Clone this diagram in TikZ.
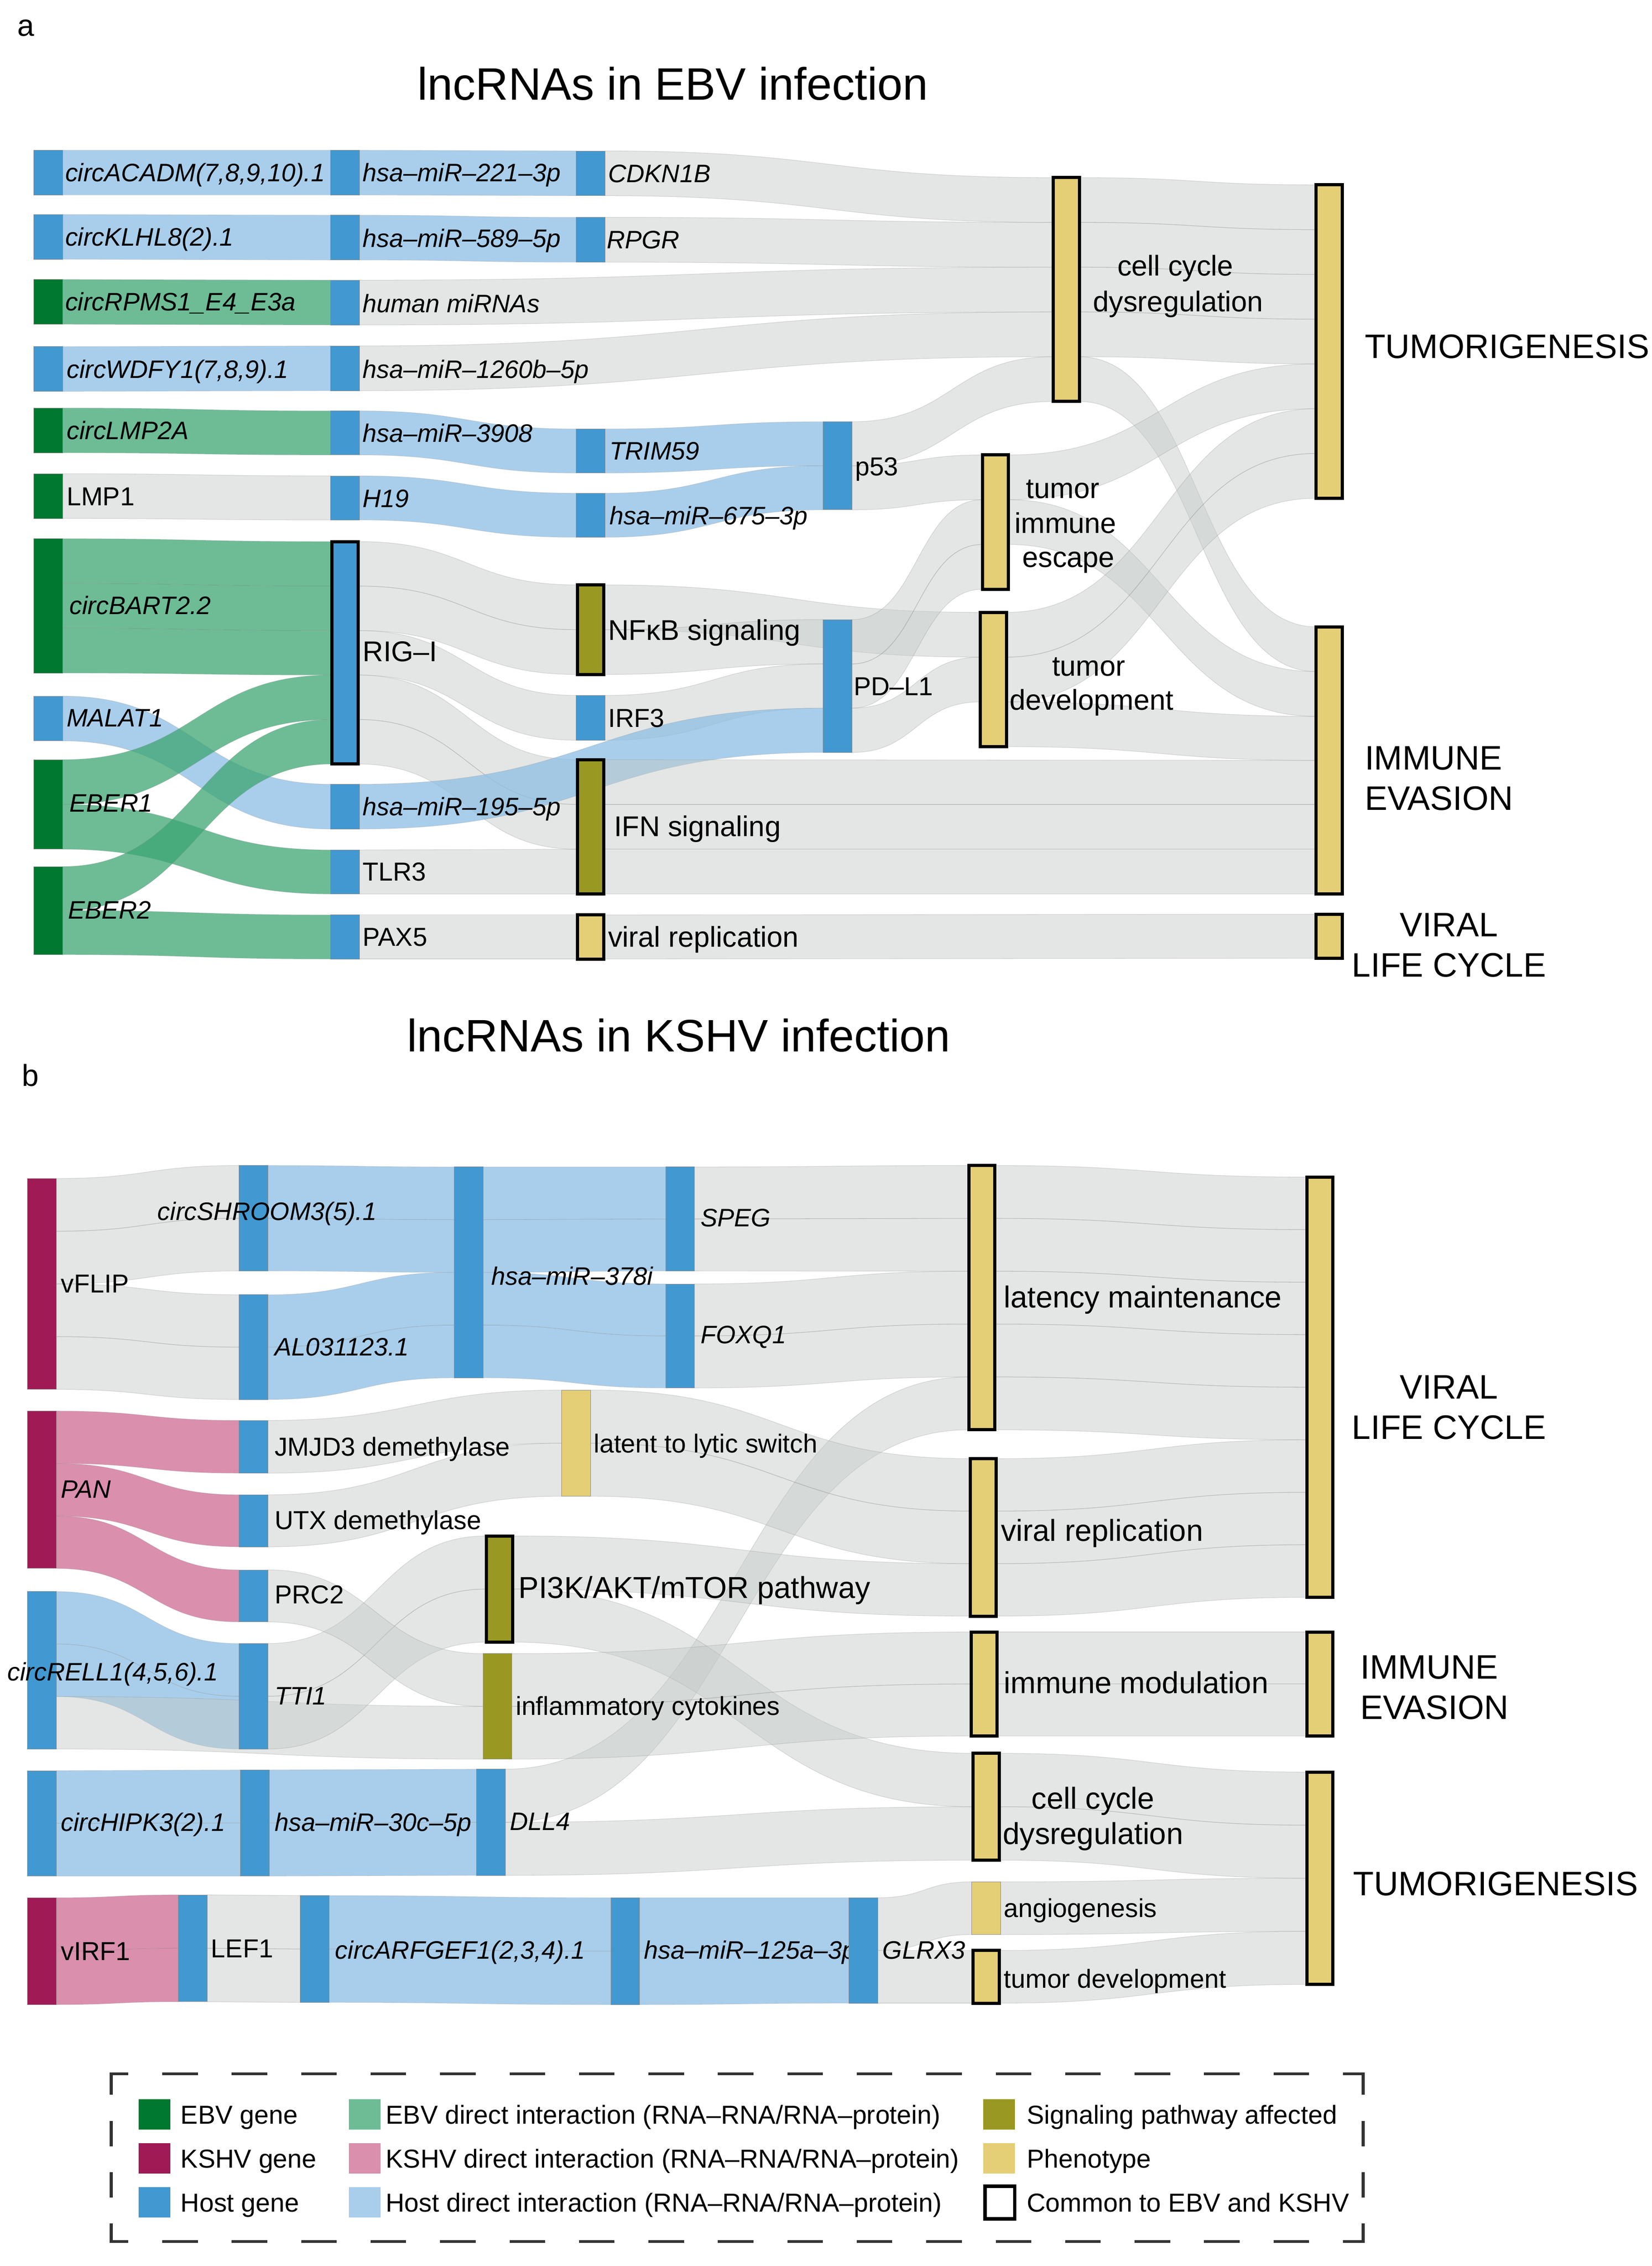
\documentclass[tikz,border=0pt]{standalone}
\usepackage{fontspec}
\setmainfont{Liberation Sans}
\usetikzlibrary{calc}

\definecolor{ebvc}{RGB}{0,120,48}
\definecolor{kshvc}{RGB}{160,26,86}
\definecolor{hostc}{RGB}{66,152,208}
\definecolor{sigc}{RGB}{152,152,34}
\definecolor{phenc}{RGB}{228,206,118}
\definecolor{flowc}{RGB}{195,200,198}
\definecolor{hostflow}{RGB}{140,190,228}
\definecolor{ebvflow}{RGB}{60,165,115}
\definecolor{kshvflow}{RGB}{205,105,145}

\pgfdeclarelayer{bg}
\pgfsetlayers{bg,main}

\tikzset{
  gbox/.style={rectangle, inner sep=0pt, outer sep=0pt, minimum width=20pt, anchor=north west, draw=black!45, line width=0.3pt},
  hostbox/.style={gbox, fill=hostc},
  ebvbox/.style={gbox, fill=ebvc},
  kshvbox/.style={gbox, fill=kshvc},
  sigbox/.style={gbox, fill=sigc},
  phenbox/.style={gbox, fill=phenc},
  shared/.style={draw=black, line width=2.2pt, minimum width=18pt, xshift=1pt},
  flowg/.style={fill=flowc, fill opacity=0.45, draw=black!45, draw opacity=0.3, line width=0.4pt},
  flowh/.style={fill=hostflow, fill opacity=0.75, draw=black!45, draw opacity=0.25, line width=0.4pt},
  flowe/.style={fill=ebvflow, fill opacity=0.75, draw=black!45, draw opacity=0.25, line width=0.4pt},
  flowk/.style={fill=kshvflow, fill opacity=0.75, draw=black!45, draw opacity=0.25, line width=0.4pt},
  lab/.style={font=\fontsize{18}{21}\selectfont, inner sep=0pt, text height=12.9pt, text depth=0pt, anchor=west},
  glab/.style={lab, font=\fontsize{17.5}{21}\selectfont\itshape, text height=12.5pt},
  mlab/.style={lab, font=\fontsize{19.8}{23}\selectfont, text height=14.2pt},
  klab/.style={lab, font=\fontsize{21}{25}\selectfont, text height=15pt},
  blab/.style={lab, font=\fontsize{23.5}{28}\selectfont, text height=16.8pt},
  ttl/.style={lab, font=\fontsize{31.5}{38}\selectfont, text height=22.5pt, anchor=center},
  leg/.style={lab, font=\fontsize{18}{22}\selectfont, text height=12.9pt},
  swatch/.style={rectangle, inner sep=0pt, outer sep=0pt, minimum width=22pt, minimum height=21pt, anchor=west},
  legline/.style={black!80, line width=2pt},
}

% bar: [extra]{style}{name}{x left}{y top}{y bottom}
\newcommand{\gbar}[6][]{\node[#2,#1,minimum height={(#6)-(#5)}] (#3) at (#4,#5) {};}
% band: [style]{from}{y1}{y2}{to}{y3}{y4}
\newcommand{\band}[7][flowg]{%
  \path (#2.east) coordinate (bs) (#5.west) coordinate (bd);
  \path ($(bs)!0.5!(bd)$) coordinate (bm);
  \begin{pgfonlayer}{bg}
  \path[#1] (bs |- 0,#3) .. controls (bm |- 0,#3) and (bm |- 0,#6) .. (bd |- 0,#6)
    -- (bd |- 0,#7) .. controls (bm |- 0,#7) and (bm |- 0,#4) .. (bs |- 0,#4) -- cycle;
  \end{pgfonlayer}}

\begin{document}
\begin{tikzpicture}[x=1pt,y=-1pt]
  \useasboundingbox (0,0) rectangle (1144,1569);

  \node[lab, font=\fontsize{21}{25}\selectfont, anchor=base west] (pa) at (12,25) {a};
  \node[lab, font=\fontsize{21}{25}\selectfont, anchor=base west] (pb) at (15,752) {b};
  \node[ttl] (ebvtitle) at (466,58) {lncRNAs in EBV infection};
  \node[ttl] (kshvtitle) at (470,717) {lncRNAs in KSHV infection};

  % EBV bars
  \gbar{hostbox}{circacadm}{23.5}{104}{135}
  \gbar{hostbox}{circklhl8}{23.5}{148.5}{179.5}
  \gbar{ebvbox}{circrpms1}{23.5}{193.5}{224.5}
  \gbar{hostbox}{circwdfy1}{23.5}{240}{271}
  \gbar{ebvbox}{circlmp2a}{23.5}{282.5}{313.5}
  \gbar{ebvbox}{lmp1}{23.5}{328}{359}
  \gbar{ebvbox}{circbart}{23.5}{373}{466}
  \gbar{hostbox}{malat1}{23.5}{482}{513}
  \gbar{ebvbox}{eber1}{23.5}{526}{588}
  \gbar{ebvbox}{eber2}{23.5}{600}{661}

  \gbar{hostbox}{mir221}{229}{104}{135}
  \gbar{hostbox}{mir589}{229}{149}{180}
  \gbar{hostbox}{humanmir}{229}{194}{225}
  \gbar{hostbox}{mir1260}{229}{239.5}{270.5}
  \gbar{hostbox}{mir3908}{229}{284.5}{315}
  \gbar{hostbox}{h19}{229}{329.5}{360}
  \gbar[shared]{hostbox}{rigi}{229}{375}{529}
  \gbar{hostbox}{mir195}{229}{543}{574}
  \gbar{hostbox}{tlr3}{229}{588.5}{619}
  \gbar{hostbox}{pax5}{229}{633.5}{664}

  \gbar{hostbox}{cdkn1b}{399}{104.5}{135.5}
  \gbar{hostbox}{rpgr}{399}{150.5}{181.5}
  \gbar{hostbox}{trim59}{399}{297}{327.5}
  \gbar{hostbox}{mir675}{399}{341.5}{372}
  \gbar[shared]{sigbox}{nfkb}{399}{405}{467}
  \gbar{hostbox}{irf3}{399}{481.5}{512.5}
  \gbar[shared]{sigbox}{ifn}{399}{526}{619}
  \gbar[shared]{phenbox}{virrep}{399}{633.5}{664}

  \gbar{hostbox}{p53}{570}{292}{353}
  \gbar{hostbox}{pdl1}{570}{429}{521}

  \gbar[shared]{phenbox}{ccd}{728.5}{123}{278}
  \gbar[shared]{phenbox}{tie}{679.5}{315}{408}
  \gbar[shared]{phenbox}{tdev}{678}{424}{517}

  \gbar[shared]{phenbox}{tumor}{910.5}{128}{345}
  \gbar[shared]{phenbox}{immune}{910.5}{434}{619}
  \gbar[shared]{phenbox}{viral}{910.5}{633}{663.5}

  % EBV flows
  \band[flowh]{circacadm}{104}{135}{mir221}{104}{135}
  \band[flowh]{circklhl8}{148.5}{179.5}{mir589}{149}{180}
  \band[flowe]{circrpms1}{193.5}{224.5}{humanmir}{194}{225}
  \band[flowh]{circwdfy1}{240}{271}{mir1260}{239.5}{270.5}
  \band[flowe]{circlmp2a}{282.5}{313.5}{mir3908}{284.5}{315}
  \band{lmp1}{328}{359}{h19}{329.5}{360}
  \band[flowe]{circbart}{373}{404}{rigi}{375}{405.8}
  \band[flowe]{circbart}{404}{435}{rigi}{405.8}{436.6}
  \band[flowe]{circbart}{435}{466}{rigi}{436.6}{467.4}
  \band[flowh]{malat1}{482}{513}{mir195}{543}{574}
  \band[flowe]{eber1}{526}{557}{rigi}{467.4}{498.2}
  \band[flowe]{eber1}{557}{588}{tlr3}{588.5}{619}
  \band[flowe]{eber2}{600}{630.5}{rigi}{498.2}{529}
  \band[flowe]{eber2}{630.5}{661}{pax5}{633.5}{664}

  \band[flowh]{mir221}{104}{135}{cdkn1b}{104.5}{135.5}
  \band[flowh]{mir589}{149}{180}{rpgr}{150.5}{181.5}
  \band{humanmir}{194}{225}{ccd}{185}{216}
  \band{mir1260}{239.5}{270.5}{ccd}{216}{247}
  \band[flowh]{mir3908}{284.5}{315}{trim59}{297}{327.5}
  \band[flowh]{h19}{329.5}{360}{mir675}{341.5}{372}
  \band{rigi}{375}{405.8}{nfkb}{405}{436}
  \band{rigi}{405.8}{436.6}{nfkb}{436}{467}
  \band{rigi}{436.6}{467.4}{irf3}{481.5}{512.5}
  \band{rigi}{467.4}{498.2}{ifn}{526}{557}
  \band{rigi}{498.2}{529}{ifn}{557}{588}
  \band{tlr3}{588.5}{619}{ifn}{588}{619}
  \band{pax5}{633.5}{664}{virrep}{633.5}{664}

  \band{cdkn1b}{104.5}{135.5}{ccd}{123}{154}
  \band{rpgr}{150.5}{181.5}{ccd}{154}{185}
  \band[flowh]{trim59}{297}{327.5}{p53}{292}{322.5}
  \band[flowh]{mir675}{341.5}{372}{p53}{322.5}{353}
  \band{nfkb}{405}{436}{tdev}{424}{455}
  \band{nfkb}{436}{467}{pdl1}{429}{459.7}
  \band{irf3}{481.5}{512.5}{pdl1}{459.7}{490.3}
  \band[flowh]{mir195}{543}{574}{pdl1}{490.3}{521}
  \band{ifn}{526}{557}{immune}{526.5}{557}
  \band{ifn}{557}{588}{immune}{557}{588}
  \band{ifn}{588}{619}{immune}{588}{619}
  \band{virrep}{633.5}{664}{viral}{633}{663.5}

  \band{p53}{292}{322.5}{ccd}{247}{278}
  \band{p53}{322.5}{353}{tie}{315}{346}
  \band{pdl1}{429}{459.7}{tie}{346}{377}
  \band{pdl1}{459.7}{490.3}{tie}{377}{408}
  \band{pdl1}{490.3}{521}{tdev}{455}{486}

  \band{ccd}{123}{154}{tumor}{128}{159}
  \band{ccd}{154}{185}{tumor}{159}{190}
  \band{ccd}{185}{216}{tumor}{190}{221}
  \band{ccd}{216}{247}{tumor}{221}{252}
  \band{ccd}{247}{278}{immune}{434}{465}
  \band{tie}{315}{346}{tumor}{252}{283}
  \band{tie}{346}{377}{immune}{465}{496}
  \band{tdev}{424}{455}{tumor}{283}{314}
  \band{tdev}{455}{486}{tumor}{314}{345}
  \band{tdev}{486}{517}{immune}{496}{526.5}

  % EBV labels
  \node[glab] (l-acadm) at (45,119.5) {circACADM(7,8,9,10).1};
  \node[glab] (l-klhl8) at (45,164) {circKLHL8(2).1};
  \node[glab] (l-rpms1) at (45,209) {circRPMS1\_E4\_E3a};
  \node[glab] (l-wdfy1) at (46,255.5) {circWDFY1(7,8,9).1};
  \node[glab] (l-lmp2a) at (46,298) {circLMP2A};
  \node[lab] (l-lmp1) at (46,343.5) {LMP1};
  \node[glab] (l-bart) at (48,419) {circBART2.2};
  \node[glab] (l-malat1) at (46,497) {MALAT1};
  \node[glab] (l-eber1) at (48,556) {EBER1};
  \node[glab] (l-eber2) at (47,630) {EBER2};
  \node[glab] (l-mir221) at (251,119.5) {hsa–miR–221–3p};
  \node[glab] (l-mir589) at (251,165) {hsa–miR–589–5p};
  \node[glab] (l-humanmir) at (251,210) {human miRNAs};
  \node[glab] (l-mir1260) at (251,255.5) {hsa–miR–1260b–5p};
  \node[glab] (l-mir3908) at (251,300) {hsa–miR–3908};
  \node[glab] (l-h19) at (251,345) {H19};
  \node[mlab] (l-rigi) at (251,451) {RIG–I};
  \node[glab] (l-mir195) at (251,558.5) {hsa–miR–195–5p};
  \node[lab] (l-tlr3) at (251,603.5) {TLR3};
  \node[lab] (l-pax5) at (251,648.5) {PAX5};
  \node[glab] (l-cdkn1b) at (421,120) {CDKN1B};
  \node[glab] (l-rpgr) at (420,166) {RPGR};
  \node[glab] (l-trim59) at (422,312) {TRIM59};
  \node[glab] (l-mir675) at (422,357) {hsa–miR–675–3p};
  \node[mlab] (l-nfkb) at (421,436) {NFκB signaling};
  \node[lab] (l-irf3) at (421,497) {IRF3};
  \node[mlab] (l-ifn) at (425,572) {IFN signaling};
  \node[mlab] (l-virrep) at (421,648.5) {viral replication};
  \node[lab] (l-p53) at (592,323) {p53};
  \node[lab] (l-pdl1) at (591,475) {PD–L1};
  \node[mlab, anchor=center] (l-ccd1) at (814,184) {cell cycle};
  \node[mlab, anchor=center] (l-ccd2) at (816,208.5) {dysregulation};
  \node[mlab, anchor=center] (l-tie1) at (736,338) {tumor};
  \node[mlab, anchor=center] (l-tie2) at (738,362) {immune};
  \node[mlab, anchor=center] (l-tie3) at (740,385.5) {escape};
  \node[mlab, anchor=center] (l-tdev1) at (754,461) {tumor};
  \node[mlab, anchor=center] (l-tdev2) at (756,484.5) {development};
  \node[blab] (l-tumor) at (945,239.5) {TUMORIGENESIS};
  \node[blab] (l-immune1) at (945,524.5) {IMMUNE};
  \node[blab] (l-immune2) at (945,552.5) {EVASION};
  \node[blab, anchor=center] (l-viral1) at (1003.5,640) {VIRAL};
  \node[blab, anchor=center] (l-viral2) at (1003.5,668) {LIFE CYCLE};

  % KSHV bars
  \gbar{kshvbox}{vflip}{19}{816}{962}
  \gbar{kshvbox}{pan}{19}{977}{1086}
  \gbar{hostbox}{circrell1}{19}{1102}{1211}
  \gbar{hostbox}{circhipk3}{19}{1226}{1299}
  \gbar{kshvbox}{virf1}{19}{1314}{1388}

  \gbar{hostbox}{circshroom3}{165.5}{807}{880}
  \gbar{hostbox}{al031123}{165.5}{896.5}{969}
  \gbar{hostbox}{jmjd3}{165.5}{983.5}{1020}
  \gbar{hostbox}{utx}{165.5}{1035}{1071}
  \gbar{hostbox}{prc2}{165.5}{1087}{1123}
  \gbar{hostbox}{tti1}{165.5}{1138}{1211}
  \gbar{hostbox}{mir30c}{166.5}{1225.5}{1299}
  \gbar{hostbox}{lef1}{123.5}{1312}{1386}
  \gbar{hostbox}{circarfgef1}{208}{1312.5}{1386.5}
  \gbar{hostbox}{mir125a}{423}{1314}{1388}

  \gbar{hostbox}{mir378i}{314.5}{808}{954}
  \gbar{hostbox}{dll4}{330}{1225}{1298.5}
  \gbar[shared]{sigbox}{pi3k}{336}{1063.5}{1137}
  \gbar{sigbox}{infcyt}{334.5}{1145}{1218}
  \gbar{hostbox}{speg}{461}{808}{880}
  \gbar{hostbox}{foxq1}{461}{889}{961}
  \gbar{phenbox}{ltl}{389}{962.5}{1036}
  \gbar{hostbox}{glrx3}{588}{1314}{1387}

  \gbar[shared]{phenbox}{latmain}{670}{807}{990}
  \gbar[shared]{phenbox}{kvirrep}{671}{1010}{1119}
  \gbar[shared]{phenbox}{immmod}{671.5}{1130}{1202}
  \gbar[shared]{phenbox}{kccd}{673}{1214}{1288}
  \gbar{phenbox}{angio}{673}{1303}{1339.5}
  \gbar[shared]{phenbox}{ktdev}{673}{1350.5}{1387}

  \gbar[shared]{phenbox}{kviral}{904}{815}{1106}
  \gbar[shared]{phenbox}{kimmune}{904}{1130}{1202}
  \gbar[shared]{phenbox}{ktumor}{904}{1227}{1374}

  % KSHV flows
  \band{vflip}{816}{852.5}{circshroom3}{807}{843.5}
  \band{vflip}{852.5}{889}{circshroom3}{843.5}{880}
  \band{vflip}{889}{925.5}{al031123}{896.5}{932.75}
  \band{vflip}{925.5}{962}{al031123}{932.75}{969}
  \band[flowh]{circshroom3}{807}{843.5}{mir378i}{808}{844.5}
  \band[flowh]{circshroom3}{843.5}{880}{mir378i}{844.5}{881}
  \band[flowh]{al031123}{896.5}{932.75}{mir378i}{881}{917.5}
  \band[flowh]{al031123}{932.75}{969}{mir378i}{917.5}{954}
  \band[flowh]{mir378i}{808}{844.5}{speg}{808}{844}
  \band[flowh]{mir378i}{844.5}{881}{speg}{844}{880}
  \band[flowh]{mir378i}{881}{917.5}{foxq1}{889}{925}
  \band[flowh]{mir378i}{917.5}{954}{foxq1}{925}{961}
  \band{speg}{808}{844}{latmain}{807}{843.6}
  \band{speg}{844}{880}{latmain}{843.6}{880.2}
  \band{foxq1}{889}{925}{latmain}{880.2}{916.8}
  \band{foxq1}{925}{961}{latmain}{916.8}{953.4}
  \band{dll4}{1225}{1261.75}{latmain}{953.4}{990}

  \band[flowk]{pan}{977}{1013.3}{jmjd3}{983.5}{1020}
  \band[flowk]{pan}{1013.3}{1049.7}{utx}{1035}{1071}
  \band[flowk]{pan}{1049.7}{1086}{prc2}{1087}{1123}
  \band{jmjd3}{983.5}{1020}{ltl}{962.5}{999.25}
  \band{utx}{1035}{1071}{ltl}{999.25}{1036}
  \band{ltl}{962.5}{999.25}{kvirrep}{1010}{1046.3}
  \band{ltl}{999.25}{1036}{kvirrep}{1046.3}{1082.7}
  \band{pi3k}{1063.5}{1100.25}{kvirrep}{1082.7}{1119}
  \band{pi3k}{1100.25}{1137}{kccd}{1214}{1251}

  \band[flowh]{circrell1}{1102}{1138.3}{tti1}{1138}{1174.5}
  \band[flowh]{circrell1}{1138.3}{1174.7}{tti1}{1174.5}{1211}
  \band{circrell1}{1174.7}{1211}{infcyt}{1181.5}{1218}
  \band{tti1}{1138}{1174.5}{pi3k}{1063.5}{1100.25}
  \band{tti1}{1174.5}{1211}{pi3k}{1100.25}{1137}
  \band{prc2}{1087}{1123}{infcyt}{1145}{1181.5}
  \band{infcyt}{1145}{1181.5}{immmod}{1130}{1166}
  \band{infcyt}{1181.5}{1218}{immmod}{1166}{1202}

  \band[flowh]{circhipk3}{1226}{1262.5}{mir30c}{1225.5}{1262.25}
  \band[flowh]{circhipk3}{1262.5}{1299}{mir30c}{1262.25}{1299}
  \band[flowh]{mir30c}{1225.5}{1262.25}{dll4}{1225}{1261.75}
  \band[flowh]{mir30c}{1262.25}{1299}{dll4}{1261.75}{1298.5}
  \band{dll4}{1261.75}{1298.5}{kccd}{1251}{1288}

  \band[flowk]{virf1}{1314}{1351}{lef1}{1312}{1349}
  \band[flowk]{virf1}{1351}{1388}{lef1}{1349}{1386}
  \band{lef1}{1312}{1349}{circarfgef1}{1312.5}{1349.5}
  \band{lef1}{1349}{1386}{circarfgef1}{1349.5}{1386.5}
  \band[flowh]{circarfgef1}{1312.5}{1349.5}{mir125a}{1314}{1351}
  \band[flowh]{circarfgef1}{1349.5}{1386.5}{mir125a}{1351}{1388}
  \band[flowh]{mir125a}{1314}{1351}{glrx3}{1314}{1350.5}
  \band[flowh]{mir125a}{1351}{1388}{glrx3}{1350.5}{1387}
  \band{glrx3}{1314}{1350.5}{angio}{1303}{1339.5}
  \band{glrx3}{1350.5}{1387}{ktdev}{1350.5}{1387}

  \band{latmain}{807}{843.6}{kviral}{815}{851.4}
  \band{latmain}{843.6}{880.2}{kviral}{851.4}{887.8}
  \band{latmain}{880.2}{916.8}{kviral}{887.8}{924.1}
  \band{latmain}{916.8}{953.4}{kviral}{924.1}{960.5}
  \band{latmain}{953.4}{990}{kviral}{960.5}{996.9}
  \band{kvirrep}{1010}{1046.3}{kviral}{996.9}{1033.3}
  \band{kvirrep}{1046.3}{1082.7}{kviral}{1033.3}{1069.6}
  \band{kvirrep}{1082.7}{1119}{kviral}{1069.6}{1106}
  \band{immmod}{1130}{1166}{kimmune}{1130}{1166}
  \band{immmod}{1166}{1202}{kimmune}{1166}{1202}
  \band{kccd}{1214}{1251}{ktumor}{1227}{1263.75}
  \band{kccd}{1251}{1288}{ktumor}{1263.75}{1300.5}
  \band{angio}{1303}{1339.5}{ktumor}{1300.5}{1337.25}
  \band{ktdev}{1350.5}{1387}{ktumor}{1337.25}{1374}

  % KSHV labels
  \begin{pgfonlayer}{bg}
    \node[glab] (l-mir125a) at (446,1350) {hsa–miR–125a–3p};
  \end{pgfonlayer}
  \node[lab] (l-vflip) at (42,888.5) {vFLIP};
  \node[glab] (l-shroom3) at (109,838.5) {circSHROOM3(5).1};
  \node[glab] (l-al031123) at (190,932.5) {AL031123.1};
  \node[glab] (l-mir378i) at (340,883.5) {hsa–miR–378i};
  \node[glab] (l-speg) at (485,843) {SPEG};
  \node[glab] (l-foxq1) at (485,924) {FOXQ1};
  \node[glab] (l-pan) at (42,1031) {PAN};
  \node[lab] (l-jmjd3) at (190,1001.5) {JMJD3 demethylase};
  \node[lab] (l-utx) at (190,1052.5) {UTX demethylase};
  \node[lab] (l-prc2) at (190,1104) {PRC2};
  \node[glab] (l-rell1) at (5,1157.5) {circRELL1(4,5,6).1};
  \node[glab] (l-tti1) at (190,1174) {TTI1};
  \node[lab] (l-ltl) at (411,999.5) {latent to lytic switch};
  \node[klab] (l-pi3k) at (359,1099) {PI3K/AKT/mTOR pathway};
  \node[lab] (l-infcyt) at (357,1181) {inflammatory cytokines};
  \node[glab] (l-hipk3) at (42,1261.5) {circHIPK3(2).1};
  \node[glab] (l-mir30c) at (190,1261.5) {hsa–miR–30c–5p};
  \node[glab] (l-dll4) at (353,1261) {DLL4};
  \node[lab] (l-virf1) at (42,1351) {vIRF1};
  \node[lab] (l-lef1) at (146,1349) {LEF1};
  \node[glab] (l-arfgef1) at (232,1350) {circARFGEF1(2,3,4).1};
  \node[glab] (l-glrx3) at (611,1350) {GLRX3};
  \node[klab] (l-latmain) at (695,898) {latency maintenance};
  \node[klab] (l-kvirrep) at (693,1059.5) {viral replication};
  \node[klab] (l-immmod) at (695,1165) {immune modulation};
  \node[klab, anchor=center] (l-kccd1) at (757,1245) {cell cycle};
  \node[klab, anchor=center] (l-kccd2) at (757,1269.5) {dysregulation};
  \node[lab] (l-angio) at (695,1321) {angiogenesis};
  \node[lab] (l-ktdev) at (695,1370) {tumor development};
  \node[blab, anchor=center] (l-kviral1) at (1003.5,960) {VIRAL};
  \node[blab, anchor=center] (l-kviral2) at (1003.5,988) {LIFE CYCLE};
  \node[blab] (l-kimmune1) at (942,1154) {IMMUNE};
  \node[blab] (l-kimmune2) at (942,1182) {EVASION};
  \node[blab] (l-ktumor) at (937,1304) {TUMORIGENESIS};

  % legend
  \draw[legline, dash pattern=on 24.6pt off 23.5pt, dash phase=11.7pt] (76,1436) -- (945,1436);
  \draw[legline, dash pattern=on 24.6pt off 23.5pt, dash phase=11.7pt] (76,1552) -- (945,1552);
  \draw[legline, dash pattern=on 17.5pt off 18pt, dash phase=3pt] (77,1436) -- (77,1552);
  \draw[legline, dash pattern=on 17.5pt off 18pt, dash phase=3pt] (944,1436) -- (944,1552);
  \node[swatch, fill=ebvc] (s-ebv) at (96,1464) {};
  \node[swatch, fill=kshvc] (s-kshv) at (96,1494.5) {};
  \node[swatch, fill=hostc] (s-host) at (96,1525) {};
  \node[swatch, fill=ebvflow, fill opacity=0.75] (s-ebvf) at (241.5,1464) {};
  \node[swatch, fill=kshvflow, fill opacity=0.75] (s-kshvf) at (241.5,1494.5) {};
  \node[swatch, fill=hostflow, fill opacity=0.75] (s-hostf) at (241.5,1525) {};
  \node[swatch, fill=sigc] (s-sig) at (681,1464) {};
  \node[swatch, fill=phenc] (s-phen) at (681,1494.5) {};
  \node[swatch, draw=black, line width=2.5pt, fill=white, minimum width=20.5pt, minimum height=22.5pt] (s-shared) at (682.25,1525) {};
  \node[leg] (t-ebv) at (125,1464) {EBV gene};
  \node[leg] (t-kshv) at (125,1494.5) {KSHV gene};
  \node[leg] (t-host) at (125,1525) {Host gene};
  \node[leg] (t-ebvf) at (267,1464) {EBV direct interaction (RNA–RNA/RNA–protein)};
  \node[leg] (t-kshvf) at (267,1494.5) {KSHV direct interaction (RNA–RNA/RNA–protein)};
  \node[leg] (t-hostf) at (267,1525) {Host direct interaction (RNA–RNA/RNA–protein)};
  \node[leg] (t-sig) at (711,1464) {Signaling pathway affected};
  \node[leg] (t-phen) at (711,1494.5) {Phenotype};
  \node[leg] (t-shared) at (711,1525) {Common to EBV and KSHV};
\end{tikzpicture}
\end{document}
